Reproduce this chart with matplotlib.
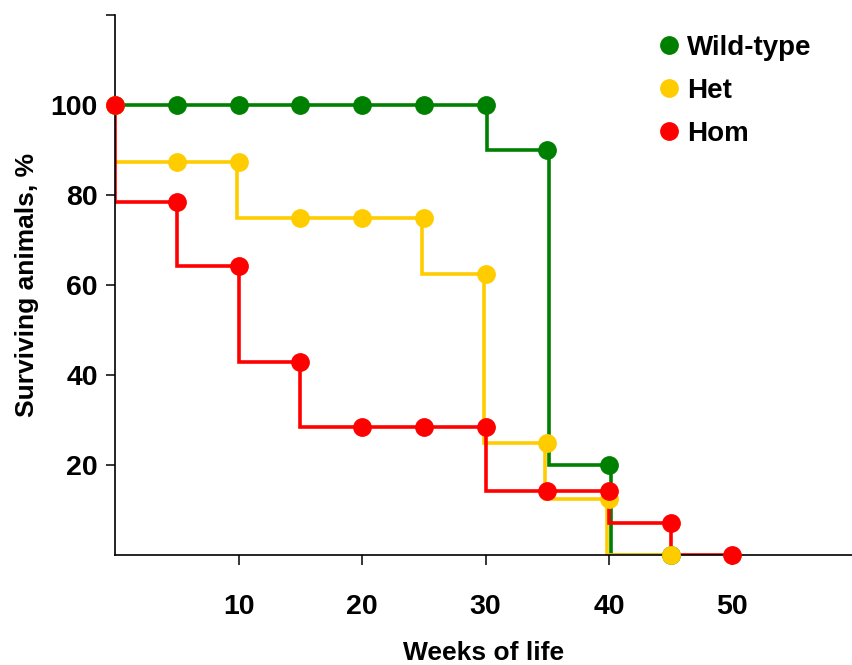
import matplotlib.pyplot as plt

plt.rcParams['font.family'] = ['Liberation Sans', 'DejaVu Sans']
plt.rcParams['font.weight'] = 'bold'

# Survival data (percent of animals alive at each week)
weeks = [0, 5, 10, 15, 20, 25, 30, 35, 40, 45, 50]
wild_type = [100, 100, 100, 100, 100, 100, 100, 90, 20, 0]
het = [100, 87.5, 87.5, 75, 75, 75, 62.5, 25, 12.5, 0]
hom = [100, 78.6, 64.3, 42.9, 28.6, 28.6, 28.6, 14.3, 14.3, 7.1, 0]

x_ticks = [10, 20, 30, 40, 50]
y_ticks = [20, 40, 60, 80, 100, 120]
y_tick_labels = ['20', '40', '60', '80', '100', '']

series = [
    ('Wild-type', wild_type, '#008000', 0.15),
    ('Het', het, '#ffcc00', -0.15),
    ('Hom', hom, '#ff0000', 0.0),
]

fig = plt.figure(figsize=(8.53, 6.65), dpi=100)
ax = fig.add_axes([0.135, 0.165, 0.864, 0.812])

# step lines first, markers on top
for name, vals, color, dx in series:
    xs = [w + dx for w in weeks[:len(vals)]]
    ax.plot(xs, vals, drawstyle='steps-pre', color=color, lw=2.6, zorder=2,
            solid_joinstyle='miter')
for name, vals, color, dx in series:
    ax.plot(weeks[:len(vals)], vals, 'o', color=color, ms=12.5, zorder=3,
            label=name, clip_on=False)

ax.set_xlim(0, 59.7)
ax.set_ylim(0, 120)
ax.set_xticks(x_ticks)
ax.set_yticks(y_ticks)
ax.set_yticklabels(y_tick_labels)

for s in ['top', 'right']:
    ax.spines[s].set_visible(False)
for s in ['left', 'bottom']:
    ax.spines[s].set_linewidth(1.2)

ax.tick_params(axis='x', length=7, width=1.1, pad=21, labelsize=20.5)
ax.tick_params(axis='y', length=6.5, width=1.1, pad=6, labelsize=20.5)

ax.set_xlabel('Weeks of life', fontsize=19, fontweight='bold', labelpad=15)
ax.set_ylabel('Surviving animals, %', fontsize=19, fontweight='bold', labelpad=8)

ax.legend(loc='upper left', bbox_to_anchor=(0.714, 1.0), frameon=False,
          fontsize=20, handlelength=0.6, handletextpad=0.35,
          labelspacing=0.62, borderaxespad=0.3)

plt.savefig('out.png', dpi=100)
